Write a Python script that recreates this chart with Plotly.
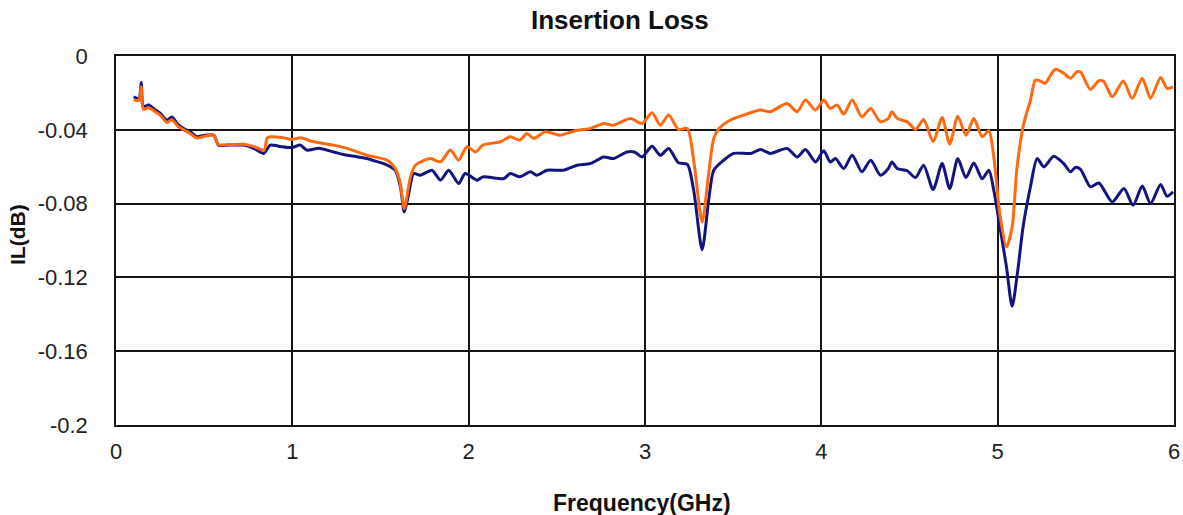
import plotly.graph_objects as go

# Frequency (GHz) and insertion loss (dB)
freq_a = [0.10, 0.13, 0.143, 0.15, 0.157, 0.185, 0.22, 0.25, 0.289, 0.317, 0.35, 0.384, 0.42, 0.459,
          0.50, 0.554, 0.582, 0.65, 0.724, 0.78, 0.837, 0.875, 0.93, 0.998, 1.045, 1.083, 1.15,
          1.234, 1.31, 1.36, 1.423, 1.47, 1.518, 1.584, 1.613, 1.635, 1.66, 1.688, 1.726, 1.792,
          1.84, 1.887, 1.943, 1.98, 2.048, 2.08, 2.2, 2.236, 2.29, 2.35, 2.386, 2.445, 2.54, 2.615,
          2.69, 2.766, 2.82, 2.898, 2.94, 2.983, 3.04, 3.087, 3.134, 3.19, 3.24, 3.276, 3.324,
          3.361, 3.39, 3.446, 3.503, 3.6, 3.655, 3.71, 3.806, 3.863, 3.91, 3.967, 4.014, 4.05,
          4.08, 4.127, 4.175, 4.23, 4.28, 4.335, 4.38, 4.40, 4.43, 4.487, 4.534, 4.58, 4.634,
          4.685, 4.728, 4.774, 4.82, 4.865, 4.912, 4.95, 4.978, 5.016, 5.05, 5.082, 5.114, 5.144,
          5.186, 5.224, 5.262, 5.318, 5.375, 5.413, 5.44, 5.47, 5.526, 5.574, 5.65, 5.716, 5.768,
          5.82, 5.867, 5.924, 5.96, 5.995]
il_a = [-0.0221, -0.023, -0.0143, -0.026, -0.0275, -0.0266, -0.029, -0.031, -0.0348, -0.033, -0.037,
        -0.0393, -0.041, -0.0438, -0.043, -0.0429, -0.0483, -0.0483, -0.0483, -0.050, -0.0528,
        -0.0483, -0.049, -0.0496, -0.0483, -0.051, -0.050, -0.052, -0.0538, -0.0545, -0.0556,
        -0.057, -0.0583, -0.0619, -0.071, -0.0846, -0.0746, -0.0637, -0.0646, -0.0619, -0.0673,
        -0.0619, -0.0691, -0.0637, -0.0673, -0.0655, -0.0664, -0.0637, -0.0655, -0.0628, -0.0646,
        -0.0619, -0.0619, -0.0592, -0.0583, -0.0547, -0.0556, -0.052, -0.052, -0.0547, -0.0489,
        -0.0538, -0.0501, -0.0579, -0.0587, -0.0728, -0.105, -0.0782, -0.0619, -0.0565, -0.0528,
        -0.0528, -0.0507, -0.0528, -0.0501, -0.0547, -0.0507, -0.0574, -0.0513, -0.0574, -0.0556,
        -0.061, -0.0538, -0.0628, -0.0565, -0.0646, -0.061, -0.0574, -0.061, -0.0622, -0.0659,
        -0.0592, -0.0724, -0.0583, -0.0719, -0.0556, -0.0659, -0.058, -0.0665, -0.0619, -0.0728,
        -0.0945, -0.1144, -0.1357, -0.1162, -0.0927, -0.0709, -0.0556, -0.0601, -0.0543, -0.0583,
        -0.0628, -0.0604, -0.0614, -0.0709, -0.0688, -0.0791, -0.0718, -0.0809, -0.0705, -0.080,
        -0.0696, -0.076, -0.0736]

freq_b = [0.10, 0.13, 0.143, 0.15, 0.157, 0.185, 0.22, 0.25, 0.289, 0.317, 0.35, 0.384, 0.42, 0.459,
          0.50, 0.554, 0.582, 0.65, 0.724, 0.78, 0.84, 0.856, 0.875, 0.93, 0.998, 1.045, 1.12,
          1.234, 1.31, 1.423, 1.537, 1.584, 1.61, 1.635, 1.67, 1.698, 1.783, 1.84, 1.896, 1.943,
          1.99, 2.04, 2.08, 2.18, 2.236, 2.29, 2.33, 2.37, 2.435, 2.52, 2.615, 2.69, 2.766, 2.82,
          2.917, 2.983, 3.04, 3.087, 3.134, 3.19, 3.24, 3.276, 3.324, 3.361, 3.39, 3.42, 3.485,
          3.56, 3.655, 3.71, 3.806, 3.863, 3.91, 3.967, 4.014, 4.05, 4.09, 4.127, 4.175, 4.23,
          4.28, 4.335, 4.38, 4.40, 4.43, 4.487, 4.534, 4.58, 4.634, 4.685, 4.728, 4.774, 4.82,
          4.865, 4.912, 4.95, 4.978, 5.012, 5.05, 5.082, 5.11, 5.148, 5.186, 5.214, 5.24, 5.27,
          5.29, 5.327, 5.375, 5.413, 5.45, 5.47, 5.526, 5.574, 5.6, 5.65, 5.712, 5.763, 5.82,
          5.867, 5.924, 5.96, 5.995]
il_b = [-0.0239, -0.024, -0.0167, -0.027, -0.029, -0.028, -0.030, -0.032, -0.036, -0.0345, -0.038,
        -0.040, -0.042, -0.0445, -0.0435, -0.043, -0.048, -0.048, -0.0478, -0.049, -0.051, -0.0447,
        -0.0438, -0.044, -0.0452, -0.0443, -0.0465, -0.0483, -0.0501, -0.0538, -0.0565, -0.061,
        -0.068, -0.0827, -0.0655, -0.0592, -0.0556, -0.0574, -0.051, -0.0565, -0.0492, -0.052,
        -0.0483, -0.0465, -0.0438, -0.0456, -0.042, -0.0447, -0.0411, -0.0429, -0.0402, -0.0393,
        -0.0366, -0.0375, -0.0339, -0.0366, -0.0307, -0.0375, -0.032, -0.0398, -0.0393, -0.0565,
        -0.090, -0.0637, -0.0447, -0.0393, -0.0347, -0.032, -0.0293, -0.0302, -0.0257, -0.0302,
        -0.0239, -0.0293, -0.0239, -0.0284, -0.0266, -0.0315, -0.0239, -0.033, -0.0284, -0.0357,
        -0.0338, -0.0302, -0.0338, -0.0357, -0.0398, -0.0344, -0.0465, -0.0333, -0.0478, -0.0326,
        -0.0429, -0.0339, -0.0438, -0.0405, -0.0547, -0.0854, -0.1035, -0.0927, -0.0601, -0.0366,
        -0.0239, -0.013, -0.0135, -0.0148, -0.012, -0.0072, -0.0094, -0.0121, -0.0085, -0.0087,
        -0.0181, -0.0134, -0.0137, -0.0221, -0.0136, -0.023, -0.0121, -0.023, -0.0116, -0.0175,
        -0.0167]

x_ticks = [0, 1, 2, 3, 4, 5, 6]
y_ticks = [0, -0.04, -0.08, -0.12, -0.16, -0.2]
y_tick_labels = ["0", "-0.04", "-0.08", "-0.12", "-0.16", "-0.2"]

FONT = "Arial, Liberation Sans, sans-serif"

fig = go.Figure()
fig.add_trace(go.Scatter(x=freq_a, y=il_a, mode="lines",
                         line=dict(color="#14147f", width=3, shape="spline", smoothing=0.7),
                         showlegend=False, hoverinfo="skip"))
fig.add_trace(go.Scatter(x=freq_b, y=il_b, mode="lines",
                         line=dict(color="#ff6a10", width=3, shape="spline", smoothing=0.7),
                         showlegend=False, hoverinfo="skip"))

fig.update_layout(
    width=1183, height=515,
    margin=dict(l=116, r=9, t=56, b=90, autoexpand=False),
    paper_bgcolor="white", plot_bgcolor="white",
    font=dict(family=FONT, size=22, color="#222"),
    xaxis=dict(range=[0, 6], tickvals=x_ticks, ticktext=[str(v) for v in x_ticks],
               showgrid=True, gridcolor="#151515", gridwidth=1.6, zeroline=False,
               showline=True, linecolor="#151515", linewidth=1.6, mirror=True,
               ticks="", ticklabelstandoff=6, automargin=False),
    yaxis=dict(range=[-0.2, 0], tickvals=y_ticks, ticktext=y_tick_labels,
               showgrid=True, gridcolor="#151515", gridwidth=1.6, zeroline=False,
               showline=True, linecolor="#151515", linewidth=1.6, mirror=True,
               ticks="", ticklabelstandoff=22, automargin=False),
    annotations=[
        dict(text="<b>Insertion Loss</b>", xref="paper", yref="paper", x=0.4764, y=1.0976,
             xanchor="center", yanchor="middle", showarrow=False,
             font=dict(family=FONT, size=26, color="#111")),
        dict(text="<b>Frequency(GHz)</b>", xref="paper", yref="paper", x=0.4976, y=-0.2114,
             xanchor="center", yanchor="middle", showarrow=False,
             font=dict(family=FONT, size=23, color="#111")),
        dict(text="<b>IL(dB)</b>", xref="paper", yref="paper", x=-0.0926, y=0.515,
             xanchor="center", yanchor="middle", showarrow=False, textangle=-90,
             font=dict(family=FONT, size=21, color="#111")),
    ],
)

# remove the browser's default 8px body margin so the figure fills the window exactly
fig.write_html("out.html", config={"displayModeBar": False},
               post_script="document.body.style.margin='0';document.body.style.overflow='hidden';")
